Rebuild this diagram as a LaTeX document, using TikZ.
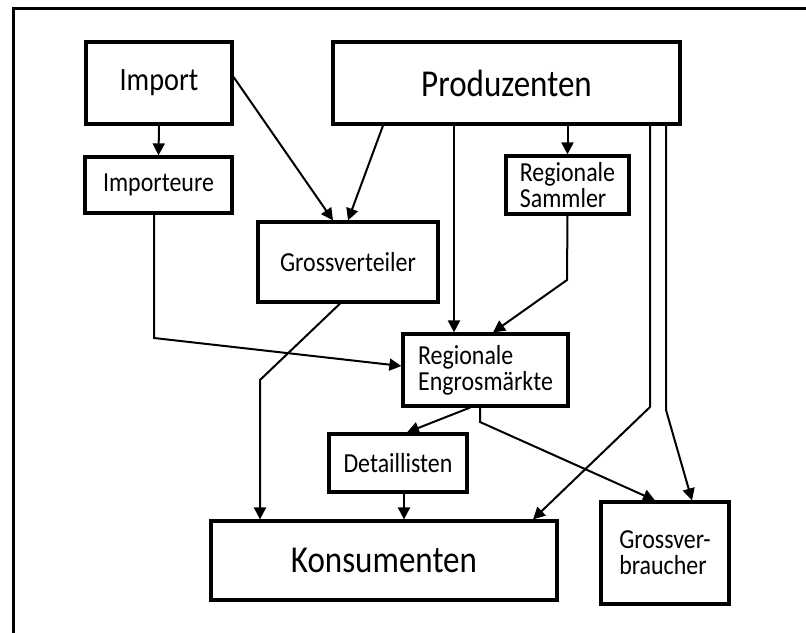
\documentclass[tikz,border=0pt]{standalone}
\usepackage{fontspec}
\setmainfont{Carlito}[FakeStretch=0.87]
\usetikzlibrary{arrows.meta}
\tikzstyle{box}=[rectangle, draw
,line width=3.2pt
,inner sep=0pt
,align=left
,font=\fontsize{27.5}{26}\selectfont
]
\tikzstyle{big box} = [box, font=\fontsize{38}{40}\selectfont]
\tikzstyle{edge} = [draw,line width=2pt,-{Triangle[length=12pt,width=12pt]}]

\begin{document}
\begin{tikzpicture}[x=1pt,y=-1pt]
    \useasboundingbox (0,0) rectangle (806,632);
    \clip (0,0) rectangle (806,632);
    % Frame (runs off the page at right and bottom)
    \draw[line width=3pt] (13,650) -- (13,8) -- (820,8);

    % First we draw the boxes
    \node[box, font=\fontsize{32.5}{34}\selectfont, minimum width=146pt, minimum height=82pt] (import) at (159,83) {Import};
    \node[big box, minimum width=347pt, minimum height=82pt] (produzenten) at (506.5,83) {Produzenten};
    \node[box, minimum width=147pt, minimum height=56pt] (importeure) at (158.5,185) {Importeure};
    \node[box, minimum width=123pt, minimum height=58pt] (sammler) at (567.5,185) {Regionale\\Sammler};
    \node[box, minimum width=180pt, minimum height=80pt] (grossverteiler) at (348,262) {Grossverteiler};
    \node[box, minimum width=165pt, minimum height=72pt] (engros) at (485.5,370) {Regionale\\Engrosmärkte};
    \node[box, minimum width=138pt, minimum height=58pt] (detaillisten) at (398,463) {Detaillisten};
    \node[big box, minimum width=346pt, minimum height=79pt] (konsumenten) at (384,560.5) {Konsumenten};
    \node[box, minimum width=128pt, minimum height=102pt] (grossverbraucher) at (665,553) {Grossver-\\braucher};

    % Bends of the longer connectors
    \foreach \pos/\name in {{(154,338)/b1}, {(567,280)/b2}, {(260,380)/b3}, {(650,407)/b4}, {(666,410)/b5}, {(480,422)/b6}}
        \path \pos coordinate (\name);

    % Connect boxes with arrows
    \path[edge] (import.south) -- (importeure.north);
    \path[edge] ([yshift=6pt]import.east) -- ([xshift=-15pt]grossverteiler.north);
    \path[edge] ([xshift=-123.5pt]produzenten.south) -- (grossverteiler.north);
    \path[edge] (sammler.north |- produzenten.south) -- (sammler.north);
    \path[edge] ([xshift=-52.5pt]produzenten.south) -- ([xshift=-31.5pt]engros.north);
    \path[edge] (sammler.south) -- (b2) -- ([xshift=7.5pt]engros.north);
    \path[edge] ([xshift=-4.5pt]importeure.south) -- (b1) -- ([yshift=4pt]engros.west);
    \path[edge] ([xshift=-8pt]grossverteiler.south) -- (b3) -- ([xshift=-124pt]konsumenten.north);
    \path[edge] ([xshift=143.5pt]produzenten.south) -- (b4) -- ([xshift=149pt]konsumenten.north);
    \path[edge] ([xshift=159.5pt]produzenten.south) -- (b5) -- ([xshift=27pt]grossverbraucher.north);
    \path[edge] ([xshift=-15.5pt]engros.south) -- ([xshift=9pt]detaillisten.north);
    \path[edge] ([xshift=-5.5pt]engros.south) -- (b6) -- ([xshift=-10pt]grossverbraucher.north);
    \path[edge] ([xshift=6pt]detaillisten.south) -- ([xshift=20pt]konsumenten.north);
\end{tikzpicture}
\end{document}
